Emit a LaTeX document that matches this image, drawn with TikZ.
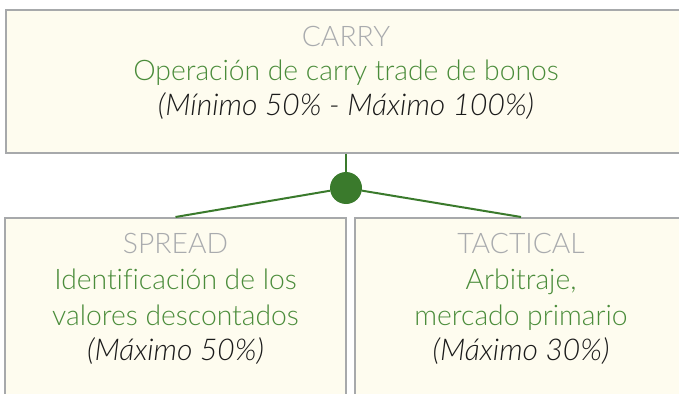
\documentclass[tikz,border=0pt]{standalone}
\usepackage{fontspec}
\setmainfont{Lato}[UprightFont={* Light}, ItalicFont={* Light Italic}, Ligatures=NoCommon]
\definecolor{boxfill}{HTML}{FEFCEF}
\definecolor{boxline}{HTML}{A7A9AB}
\definecolor{titlegray}{HTML}{A9ABAE}
\definecolor{txtgreen}{HTML}{4A8C3A}
\definecolor{linkgreen}{HTML}{3A7A2C}
\definecolor{txtblack}{HTML}{1A1A1A}
\tikzset{
  panel/.style={draw=boxline, line width=2pt, fill=boxfill, rectangle, inner sep=0pt},
  ttl/.style={anchor=base, inner sep=0pt, text=titlegray, font=\fontsize{28.3}{33}\selectfont},
  desc/.style={anchor=base, inner sep=0pt, text=txtgreen, font=\fontsize{28.3}{33}\selectfont},
  pct/.style={anchor=base, inner sep=0pt, text=txtblack, font=\fontsize{30}{35}\selectfont\itshape},
  link/.style={draw=linkgreen, line width=2pt},
  hub/.style={circle, fill=linkgreen, inner sep=0pt, minimum size=32pt}
}
\begin{document}
\begin{tikzpicture}[x=1pt,y=-1pt]
\useasboundingbox (0,0) rectangle (679,393);
\clip (0,0) rectangle (679,393);
\node[panel, minimum width=680pt, minimum height=142pt] (carry) at (346,81.5) {};
\node[panel, minimum width=341pt, minimum height=200pt] (spread) at (175.5,318) {};
\node[panel, minimum width=332pt, minimum height=200pt] (tactical) at (521,318) {};
\node[hub] (hub) at (346,188) {};
\draw[link] (carry.south -| hub) -- (hub);
\draw[link] (hub) -- (spread.north);
\draw[link] (hub) -- (tactical.north);
% top texts
\node[ttl] (t1) at (346,46.5) {CARRY};
\node[desc] (t2) at (346,81) {Operación de carry trade de bonos};
\node[pct] (t3) at (346,115.5) {(Mínimo 50\% - Máximo 100\%)};
% left texts
\node[ttl] (l1) at (175.5,253) {SPREAD};
\node[desc] (l2) at (175.5,289) {Identificación de los};
\node[desc] (l3) at (175.5,325) {valores descontados};
\node[pct] (l4) at (175.5,360) {(Máximo 50\%)};
% right texts
\node[ttl] (r1) at (521,253) {TACTICAL};
\node[desc] (r2) at (521,289) {Arbitraje,};
\node[desc] (r3) at (521,325) {mercado primario};
\node[pct] (r4) at (521,360) {(Máximo 30\%)};
\end{tikzpicture}
\end{document}
